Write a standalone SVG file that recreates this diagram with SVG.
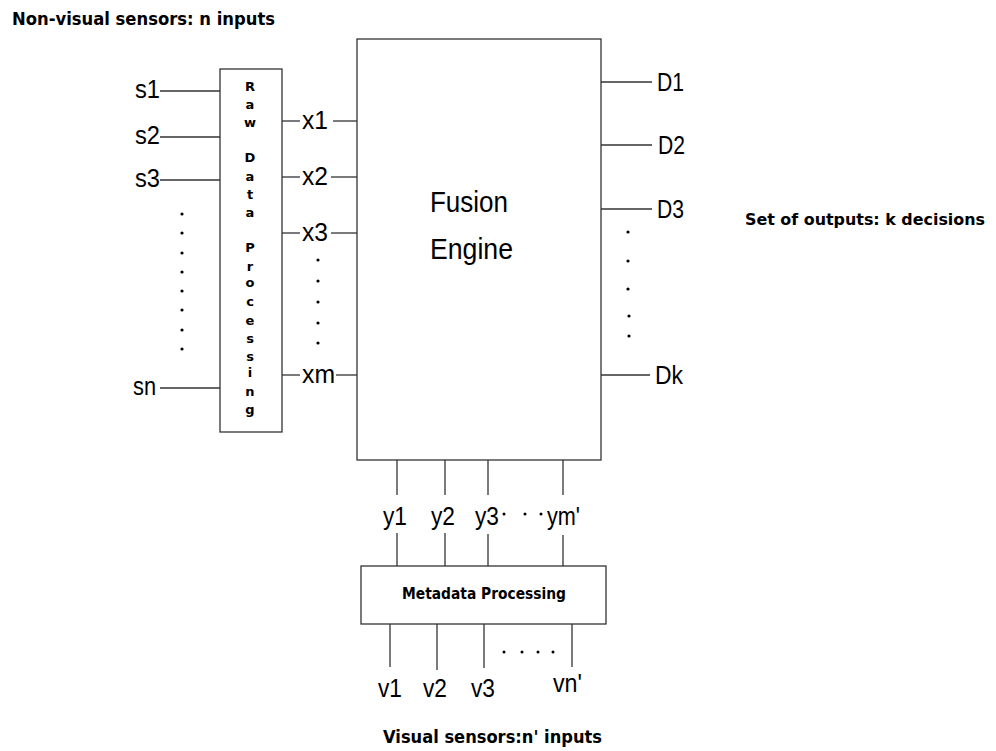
<svg xmlns="http://www.w3.org/2000/svg" width="996" height="751" viewBox="0 0 996 751">
<style>
.box{fill:#fff;stroke:#333;stroke-width:1.3}
.ln{stroke:#333;stroke-width:1.3;fill:none}
.lb{font-family:"Liberation Sans",Arial,sans-serif;font-size:25px;fill:#000}
.big{font-family:"Liberation Sans",Arial,sans-serif;font-size:30px;fill:#000}
.tt{font-family:"DejaVu Sans","Liberation Sans",sans-serif;font-weight:bold;font-size:17px;fill:#000}
.rl{font-family:"DejaVu Sans","Liberation Sans",sans-serif;font-weight:bold;font-size:13px;fill:#000;text-anchor:middle}
.dot{fill:#000}
</style>
<rect width="996" height="751" fill="#fff"/>
<text class="tt" x="12" y="25" textLength="263" lengthAdjust="spacingAndGlyphs">Non-visual sensors: n inputs</text>
<text class="tt" x="745" y="225" style="font-size:16px" textLength="240" lengthAdjust="spacingAndGlyphs">Set of outputs: k decisions</text>
<text class="tt" x="383" y="743" textLength="219" lengthAdjust="spacingAndGlyphs">Visual sensors:n' inputs</text>

<g id="connectors">
<line class="ln" x1="160" y1="91" x2="220" y2="91"/>
<line class="ln" x1="160" y1="137" x2="220" y2="137"/>
<line class="ln" x1="160" y1="180" x2="220" y2="180"/>
<line class="ln" x1="160" y1="388" x2="220" y2="388"/>
<line class="ln" x1="282" y1="121" x2="300" y2="121"/>
<line class="ln" x1="333" y1="121" x2="357" y2="121"/>
<line class="ln" x1="282" y1="177" x2="300" y2="177"/>
<line class="ln" x1="331" y1="177" x2="357" y2="177"/>
<line class="ln" x1="282" y1="233" x2="300" y2="233"/>
<line class="ln" x1="331" y1="233" x2="357" y2="233"/>
<line class="ln" x1="282" y1="375" x2="300" y2="375"/>
<line class="ln" x1="336" y1="375" x2="357" y2="375"/>
<line class="ln" x1="601" y1="82" x2="652" y2="82"/>
<line class="ln" x1="601" y1="145" x2="652" y2="145"/>
<line class="ln" x1="601" y1="209" x2="652" y2="209"/>
<line class="ln" x1="600" y1="375" x2="650" y2="375"/>
<line class="ln" x1="397" y1="460" x2="397" y2="495"/>
<line class="ln" x1="397" y1="533" x2="397" y2="566"/>
<line class="ln" x1="445" y1="460" x2="445" y2="495"/>
<line class="ln" x1="445" y1="533" x2="445" y2="566"/>
<line class="ln" x1="488" y1="460" x2="488" y2="495"/>
<line class="ln" x1="488" y1="534" x2="488" y2="568"/>
<line class="ln" x1="563" y1="460" x2="563" y2="495"/>
<line class="ln" x1="563" y1="535" x2="563" y2="566"/>
<line class="ln" x1="390" y1="624" x2="390" y2="667"/>
<line class="ln" x1="437" y1="624" x2="437" y2="670"/>
<line class="ln" x1="484" y1="624" x2="484" y2="668"/>
<line class="ln" x1="572" y1="624" x2="572" y2="667"/>
</g>

<g id="raw">
<rect class="box" x="220" y="69" width="62" height="363"/>
<text class="rl" x="250" y="91">R</text>
<text class="rl" x="250" y="109">a</text>
<text class="rl" x="250" y="127">w</text>
<text class="rl" x="250" y="162">D</text>
<text class="rl" x="250" y="181">a</text>
<text class="rl" x="250" y="199">t</text>
<text class="rl" x="250" y="217">a</text>
<text class="rl" x="250" y="252">P</text>
<text class="rl" x="250" y="271">r</text>
<text class="rl" x="250" y="287">o</text>
<text class="rl" x="250" y="306">c</text>
<text class="rl" x="250" y="325">e</text>
<text class="rl" x="250" y="343">s</text>
<text class="rl" x="250" y="361">s</text>
<text class="rl" x="250" y="377">i</text>
<text class="rl" x="250" y="396">n</text>
<text class="rl" x="250" y="414">g</text>
</g>

<g id="fusion">
<rect class="box" x="357" y="39" width="244" height="421"/>
<text class="big" x="430" y="212" textLength="78" lengthAdjust="spacingAndGlyphs">Fusion</text>
<text class="big" x="430" y="259" textLength="83" lengthAdjust="spacingAndGlyphs">Engine</text>
</g>

<g id="metadata">
<rect class="box" x="361" y="566" width="245" height="58"/>
<text class="tt" x="402" y="599" style="font-size:15px" textLength="164" lengthAdjust="spacingAndGlyphs">Metadata Processing</text>
</g>

<g id="inputs-s">
<text class="lb" x="135" y="98" textLength="25" lengthAdjust="spacingAndGlyphs">s1</text>
<text class="lb" x="135" y="144" textLength="25" lengthAdjust="spacingAndGlyphs">s2</text>
<text class="lb" x="135" y="187" textLength="25" lengthAdjust="spacingAndGlyphs">s3</text>
<text class="lb" x="133" y="395" textLength="23" lengthAdjust="spacingAndGlyphs">sn</text>
<g class="dot">
<circle cx="182" cy="214" r="1.6"/><circle cx="182" cy="233" r="1.6"/><circle cx="182" cy="253" r="1.6"/><circle cx="182" cy="272" r="1.6"/>
<circle cx="182" cy="291" r="1.6"/><circle cx="182" cy="310" r="1.6"/><circle cx="182" cy="330" r="1.6"/><circle cx="182" cy="349" r="1.6"/>
</g>
</g>

<g id="inputs-x">
<text class="lb" x="302" y="129" textLength="26" lengthAdjust="spacingAndGlyphs">x1</text>
<text class="lb" x="302" y="185" textLength="26" lengthAdjust="spacingAndGlyphs">x2</text>
<text class="lb" x="302" y="241" textLength="26" lengthAdjust="spacingAndGlyphs">x3</text>
<text class="lb" x="302" y="383" textLength="33" lengthAdjust="spacingAndGlyphs">xm</text>
<g class="dot">
<circle cx="318" cy="260" r="1.6"/><circle cx="318" cy="281" r="1.6"/><circle cx="318" cy="302" r="1.6"/><circle cx="318" cy="323" r="1.6"/><circle cx="318" cy="343" r="1.6"/>
</g>
</g>

<g id="outputs-d">
<text class="lb" x="657" y="91" textLength="27" lengthAdjust="spacingAndGlyphs">D1</text>
<text class="lb" x="658" y="154" textLength="27" lengthAdjust="spacingAndGlyphs">D2</text>
<text class="lb" x="657" y="218" textLength="27" lengthAdjust="spacingAndGlyphs">D3</text>
<text class="lb" x="655" y="384" textLength="28" lengthAdjust="spacingAndGlyphs">Dk</text>
<g class="dot">
<circle cx="628" cy="232" r="1.6"/><circle cx="628" cy="261" r="1.6"/><circle cx="628" cy="289" r="1.6"/><circle cx="629" cy="316" r="1.6"/><circle cx="629" cy="336" r="1.6"/>
</g>
</g>

<g id="inputs-y">
<text class="lb" x="383" y="525" textLength="24" lengthAdjust="spacingAndGlyphs">y1</text>
<text class="lb" x="431" y="525" textLength="24" lengthAdjust="spacingAndGlyphs">y2</text>
<text class="lb" x="475" y="525" textLength="24" lengthAdjust="spacingAndGlyphs">y3</text>
<text class="lb" x="547" y="525" textLength="33" lengthAdjust="spacingAndGlyphs">ym'</text>
<g class="dot">
<circle cx="504" cy="514" r="1.5"/><circle cx="525" cy="514" r="1.5"/><circle cx="541" cy="514" r="1.5"/>
</g>
</g>

<g id="inputs-v">
<text class="lb" x="378" y="697" textLength="24" lengthAdjust="spacingAndGlyphs">v1</text>
<text class="lb" x="423" y="697" textLength="24" lengthAdjust="spacingAndGlyphs">v2</text>
<text class="lb" x="471" y="697" textLength="24" lengthAdjust="spacingAndGlyphs">v3</text>
<text class="lb" x="553" y="692" textLength="29" lengthAdjust="spacingAndGlyphs">vn'</text>
<g class="dot">
<circle cx="504" cy="652" r="1.5"/><circle cx="522" cy="652" r="1.5"/><circle cx="538" cy="652" r="1.5"/><circle cx="553" cy="652" r="1.5"/>
</g>
</g>
</svg>
